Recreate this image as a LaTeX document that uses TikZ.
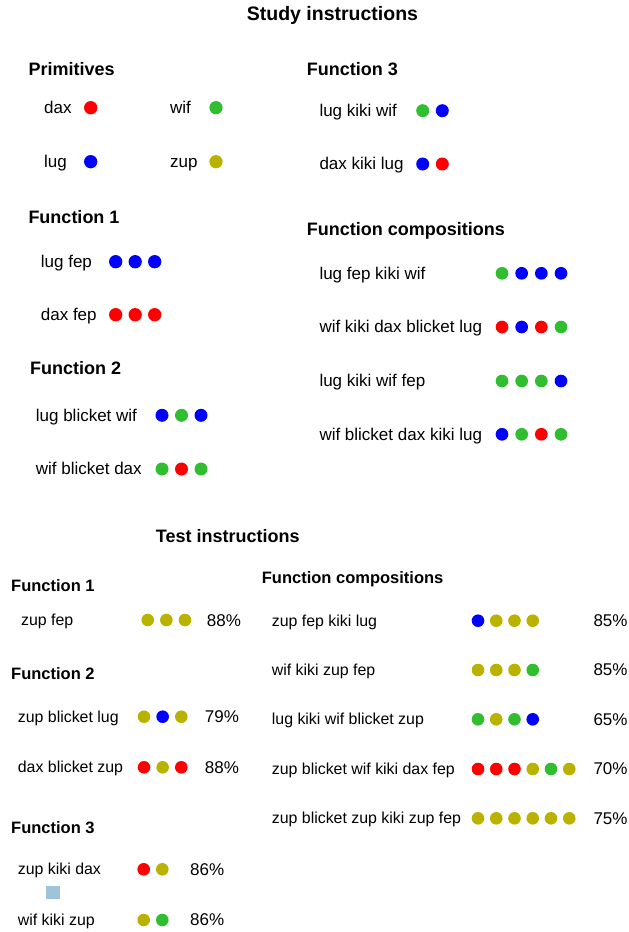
\documentclass[tikz,border=0pt]{standalone}
\usepackage{fontspec}
\setmainfont{Liberation Sans}

\definecolor{cred}{HTML}{FF0000}
\definecolor{cblue}{HTML}{0000FF}
\definecolor{cgreen}{HTML}{30BE30}
\definecolor{colive}{HTML}{B9B300}
\definecolor{csquare}{HTML}{9EC3DB}

% a row of coloured dots: name prefix, first x, y, spacing, diameter, colour list
\newcommand{\dotrow}[6]{%
  \foreach \c [count=\i] in {#6} {%
    \node[ball=\c, minimum size=#5] (#1-\i) at ({#2+(\i-1)*#4},#3) {};
  }%
}

\begin{document}
\begin{tikzpicture}[x=1pt, y=-1pt,
  txt/.style={anchor=west, inner sep=0pt, text depth=0pt},
  title/.style={txt, text height=13.65pt, font=\fontsize{19.5}{22}\selectfont\bfseries},
  headA/.style={txt, text height=12.6pt, font=\fontsize{18}{21}\selectfont\bfseries},
  headB/.style={txt, text height=11.55pt, font=\fontsize{16.5}{19}\selectfont\bfseries},
  bodyA/.style={txt, text height=11.9pt, font=\fontsize{17}{20}\selectfont},
  bodyB/.style={txt, text height=11.1pt, font=\fontsize{15.9}{19}\selectfont},
  pct/.style={txt, text height=11.9pt, font=\fontsize{17}{20}\selectfont},
  ball/.style={circle, fill=#1, draw=none, inner sep=0pt},
]
\useasboundingbox (0,0) rectangle (629,932);

% ---------------- study part ----------------
\node[title] (study) at (246.7,14) {Study instructions};

\node[headA] (prim) at (28.3,69) {Primitives};
\node[bodyA] (p1) at (44,107.7) {dax};
\dotrow{p1d}{90.7}{107.7}{19.5}{13.3pt}{cred}
\node[bodyA] (p2) at (170,107.7) {wif};
\dotrow{p2d}{216}{107.7}{19.5}{13.3pt}{cgreen}
\node[bodyA] (p3) at (44,161.7) {lug};
\dotrow{p3d}{90.7}{161.7}{19.5}{13.3pt}{cblue}
\node[bodyA] (p4) at (170,161.7) {zup};
\dotrow{p4d}{216}{161.7}{19.5}{13.3pt}{colive}

\node[headA] (sf1) at (28.3,217.3) {Function 1};
\node[bodyA] (sf1a) at (40.7,261.7) {lug fep};
\dotrow{sf1ad}{115.7}{261.7}{19.5}{13.3pt}{cblue,cblue,cblue}
\node[bodyA] (sf1b) at (40.7,314.7) {dax fep};
\dotrow{sf1bd}{115.7}{314.7}{19.5}{13.3pt}{cred,cred,cred}

\node[headA] (sf2) at (30,368.3) {Function 2};
\node[bodyA] (sf2a) at (35.7,415.3) {lug blicket wif};
\dotrow{sf2ad}{162}{415.3}{19.5}{13pt}{cblue,cgreen,cblue}
\node[bodyA] (sf2b) at (35.7,469) {wif blicket dax};
\dotrow{sf2bd}{162}{469}{19.5}{13pt}{cgreen,cred,cgreen}

\node[headA] (sf3) at (306.7,69) {Function 3};
\node[bodyA] (sf3a) at (319.3,110.7) {lug kiki wif};
\dotrow{sf3ad}{422.7}{110.7}{19.6}{13pt}{cgreen,cblue}
\node[bodyA] (sf3b) at (319.3,164) {dax kiki lug};
\dotrow{sf3bd}{422.7}{164}{19.6}{13pt}{cblue,cred}

\node[headA] (sfc) at (306.7,229) {Function compositions};
\node[bodyA] (sfc1) at (319.3,273.3) {lug fep kiki wif};
\dotrow{sfc1d}{502}{273.3}{19.67}{12.7pt}{cgreen,cblue,cblue,cblue}
\node[bodyA] (sfc2) at (319.3,327) {wif kiki dax blicket lug};
\dotrow{sfc2d}{502}{327}{19.67}{12.7pt}{cred,cblue,cred,cgreen}
\node[bodyA] (sfc3) at (319.3,381) {lug kiki wif fep};
\dotrow{sfc3d}{502}{381}{19.67}{12.7pt}{cgreen,cgreen,cgreen,cblue}
\node[bodyA] (sfc4) at (319.3,434.3) {wif blicket dax kiki lug};
\dotrow{sfc4d}{502}{434.3}{19.67}{12.7pt}{cblue,cgreen,cred,cgreen}

% ---------------- test part ----------------
\node[headA] (test) at (155.7,535.7) {Test instructions};

\node[headB] (tf1) at (11,585.7) {Function 1};
\node[bodyB] (tf1a) at (21,620) {zup fep};
\dotrow{tf1ad}{147.7}{620}{18.65}{12.6pt}{colive,colive,colive}
\node[pct] (tf1ap) at (206.7,621) {88\%};

\node[headB] (tf2) at (11,674) {Function 2};
\node[bodyB] (tf2a) at (17.7,716.7) {zup blicket lug};
\dotrow{tf2ad}{144}{716.7}{18.65}{12.6pt}{colive,cblue,colive}
\node[pct] (tf2ap) at (204.7,716.7) {79\%};
\node[bodyB] (tf2b) at (17.7,767.3) {dax blicket zup};
\dotrow{tf2bd}{144}{767.3}{18.65}{12.6pt}{cred,colive,cred}
\node[pct] (tf2bp) at (204.7,767.3) {88\%};

\node[headB] (tf3) at (11,827.3) {Function 3};
\node[bodyB] (tf3a) at (17.7,869.3) {zup kiki dax};
\dotrow{tf3ad}{143.7}{869.3}{18.6}{12.6pt}{cred,colive}
\node[pct] (tf3ap) at (190,869.3) {86\%};
\node[fill=csquare, draw=none, inner sep=0pt, minimum size=13.6pt] (mark) at (52.8,892.5) {};
\node[bodyB] (tf3b) at (17.7,920) {wif kiki zup};
\dotrow{tf3bd}{143.7}{920}{18.6}{12.6pt}{colive,cgreen}
\node[pct] (tf3bp) at (190,920) {86\%};

\node[headB] (tfc) at (261.7,577.3) {Function compositions};
\node[bodyB] (tfc1) at (271.7,620.7) {zup fep kiki lug};
\dotrow{tfc1d}{478}{620.7}{18.25}{12.6pt}{cblue,colive,colive,colive}
\node[pct] (tfc1p) at (593.3,620.7) {85\%};
\node[bodyB] (tfc2) at (271.7,670) {wif kiki zup fep};
\dotrow{tfc2d}{478}{670}{18.25}{12.6pt}{colive,colive,colive,cgreen}
\node[pct] (tfc2p) at (593.3,670) {85\%};
\node[bodyB] (tfc3) at (271.7,719.3) {lug kiki wif blicket zup};
\dotrow{tfc3d}{478}{719.3}{18.25}{12.6pt}{cgreen,colive,cgreen,cblue}
\node[pct] (tfc3p) at (593.3,719.3) {65\%};
\node[bodyB] (tfc4) at (271.7,769) {zup blicket wif kiki dax fep};
\dotrow{tfc4d}{478}{769}{18.25}{12.6pt}{cred,cred,cred,colive,cgreen,colive}
\node[pct] (tfc4p) at (593.3,769) {70\%};
\node[bodyB] (tfc5) at (271.7,818.3) {zup blicket zup kiki zup fep};
\dotrow{tfc5d}{478}{818.3}{18.25}{12.6pt}{colive,colive,colive,colive,colive,colive}
\node[pct] (tfc5p) at (593.3,818.3) {75\%};
\end{tikzpicture}
\end{document}
